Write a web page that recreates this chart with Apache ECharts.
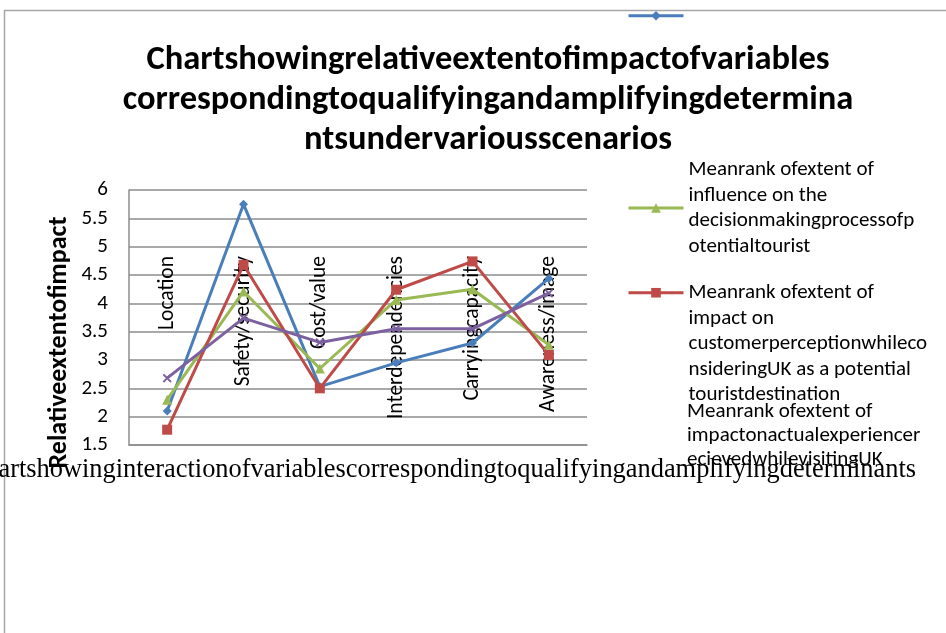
<!DOCTYPE html>
<html>
<head>
<meta charset="utf-8">
<script src="https://cdn.jsdelivr.net/npm/echarts@6/dist/echarts.min.js"></script>
<style>
  html, body { margin: 0; padding: 0; background: #fff; }
  #chart { width: 946px; height: 633px; }
</style>
</head>
<body>
<div id="chart"></div>
<script>
// categories and values
const categories = ['Location', 'Safety/security', 'Cost/value', 'Interdependencies', 'Carryingcapacity', 'Awareness/image'];
const blueValues = [2.10, 5.75, 2.53, 2.95, 3.30, 4.44];
const greenValues = [2.30, 4.21, 2.85, 4.06, 4.25, 3.27];
const redValues = [1.77, 4.68, 2.50, 4.24, 4.74, 3.09];
const purpleValues = [2.68, 3.74, 3.31, 3.55, 3.55, 4.18];

const yMin = 1.5, yMax = 6, yStep = 0.5;

const blueName = 'Series1';
const greenLines = ['Meanrank ofextent of', 'influence on the', 'decisionmakingprocessofp', 'otentialtourist'];
const redLines = ['Meanrank ofextent of', 'impact on', 'customerperceptionwhileco', 'nsideringUK as a potential', 'touristdestination'];
const purpleLines = ['Meanrank ofextent of', 'impactonactualexperiencer', 'ecievedwhilevisitingUK'];

const titleLines = ['Chartshowingrelativeextentofimpactofvariables', 'correspondingtoqualifyingandamplifyingdetermina', 'ntsundervariousscenarios'];
const bottomText = 'Chartshowinginteractionofvariablescorrespondingtoqualifyingandamplifyingdeterminants';

const SANS = 'Carlito, "Liberation Sans", Arial, sans-serif';
const gridColor = '#8c8c8c';

const greenName = greenLines.join(' ');
const redName = redLines.join(' ');
const purpleName = purpleLines.join(' ');

const xMark = 'path://M0,1.5L1.5,0L5,3.5L8.5,0L10,1.5L6.5,5L10,8.5L8.5,10L5,6.5L1.5,10L0,8.5L3.5,5Z';

const chart = echarts.init(document.getElementById('chart'));

function lineSeries(name, data, color, symbol, size) {
  return {
    name: name,
    type: 'line',
    data: data,
    symbol: symbol,
    symbolSize: size,
    showAllSymbol: true,
    lineStyle: { color: color, width: 3 },
    itemStyle: { color: color },
    emphasis: { disabled: true }
  };
}

function legendBox(name, top, text, extra) {
  return Object.assign({
    data: [name],
    left: 622,
    top: top,
    orient: 'vertical',
    itemWidth: 55,
    itemHeight: 12,
    selectedMode: false,
    lineStyle: { width: 3 },
    formatter: () => text,
    textStyle: { fontFamily: SANS, fontSize: 21, lineHeight: 25.5, color: '#000' }
  }, extra || {});
}

chart.setOption({
  animation: false,
  backgroundColor: '#fff',
  title: {
    text: titleLines.join('\n'),
    left: 483,
    top: 35,
    textAlign: 'center',
    textStyle: { fontFamily: SANS, fontWeight: 'bold', fontSize: 34.5, lineHeight: 40, color: '#000' }
  },
  legend: [
    legendBox(blueName, 6, ''),
    legendBox(greenName, 152, greenLines.join('\n')),
    // blank lines above so the marker sits level with the first text line
    legendBox(redName, 173, '\n\n\n\n' + redLines.join('\n')),
    legendBox(purpleName, 395, purpleLines.join('\n'), {
      data: [{ name: purpleName, icon: 'none' }],
      textStyle: { fontFamily: SANS, fontSize: 21, lineHeight: 24, color: '#000' }
    })
  ],
  grid: { left: 129, right: 359, top: 190, bottom: 188 },
  xAxis: {
    type: 'category',
    data: categories,
    boundaryGap: true,
    axisLine: { lineStyle: { color: gridColor, width: 1.5 } },
    axisTick: { show: false },
    axisLabel: {
      interval: 0,
      rotate: 90,
      margin: -189,
      fontFamily: SANS,
      fontSize: 21.5,
      color: '#000'
    }
  },
  yAxis: {
    type: 'value',
    min: yMin,
    max: yMax,
    interval: yStep,
    name: 'Relativeextentofimpact',
    nameLocation: 'middle',
    nameGap: 57,
    nameTextStyle: { fontFamily: SANS, fontWeight: 'bold', fontSize: 26, color: '#000', padding: [0, 50, 0, 0] },
    axisLine: { show: true, lineStyle: { color: gridColor, width: 1.5 } },
    axisTick: { show: false },
    axisLabel: { margin: 21, fontFamily: SANS, fontSize: 21, color: '#000' },
    splitLine: { lineStyle: { color: gridColor, width: 1.5 } }
  },
  series: [
    lineSeries(blueName, blueValues, '#4a7ebb', 'diamond', 9),
    lineSeries(greenName, greenValues, '#98b954', 'triangle', 10),
    lineSeries(redName, redValues, '#be4b48', 'rect', 10),
    lineSeries(purpleName, purpleValues, '#7d60a0', xMark, 9)
  ],
  graphic: [
    {
      type: 'rect',
      silent: true,
      z: -10,
      shape: { x: 4.5, y: 10.5, width: 1000, height: 700 },
      style: { fill: 'none', stroke: '#a6a6a6', lineWidth: 1.5 }
    },
    {
      type: 'text',
      silent: true,
      x: 916,
      y: 470,
      style: {
        text: bottomText,
        textAlign: 'right',
        textVerticalAlign: 'middle',
        font: '26.4px "Liberation Serif", "Times New Roman", serif',
        fill: '#000'
      }
    }
  ]
});
</script>
</body>
</html>
